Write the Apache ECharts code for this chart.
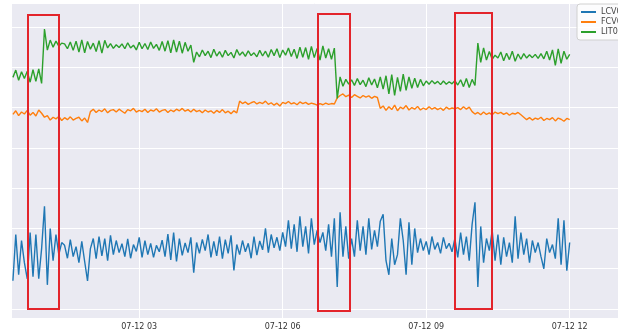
<!DOCTYPE html>
<html>
<head>
<meta charset="utf-8">
<script src="https://cdn.jsdelivr.net/npm/echarts@6/dist/echarts.min.js"></script>
<style>
  html, body { margin: 0; padding: 0; background: #fff; }
  #chart { width: 618px; height: 335px; }
</style>
</head>
<body>
<div id="chart"></div>
<script>
// 采样：从 07-12 00:21.6 开始，每 0.06 小时一个点
const START_HOUR = 0.36
const STEP_HOUR = 0.06
const SERIES_NAMES = ['LCV01', 'FCV01', 'LIT01']
const X_TICK_PREFIX = '07-12 '

// 液位调节阀 LCV01（蓝）
const lcvValues = [
  7.0, 18.5, 8.5, 17.0, 11.5, 7.5, 19.0, 8.0, 18.5, 7.5,
  15.0, 25.5, 6.0, 20.0, 12.0, 18.5, 13.5, 16.5, 15.8, 12.6,
  17.2, 13.0, 15.5, 11.5, 16.8, 11.8, 7.0, 15.0, 17.5, 12.5,
  18.0, 13.2, 17.5, 12.0, 18.3, 13.5, 17.0, 14.0, 16.2, 13.0,
  17.4, 12.6, 16.0, 14.3, 17.8, 12.8, 17.0, 13.5, 16.3, 12.8,
  15.8, 14.2, 17.1, 13.0, 18.6, 12.2, 19.0, 11.8, 17.5, 13.3,
  16.4, 14.0, 17.8, 9.0, 16.5, 13.8, 17.3, 14.5, 18.5, 12.8,
  16.8, 13.2, 18.0, 12.5, 17.2, 13.8, 18.3, 9.6, 16.0, 13.5,
  17.0, 14.2, 16.3, 12.6, 18.0, 13.4, 16.9, 14.7, 20.0, 14.0,
  18.5, 15.2, 17.8, 14.5, 19.0, 15.5, 22.0, 15.0, 21.0, 14.2,
  23.0, 15.5, 20.5, 13.8, 22.5, 16.0, 19.5, 16.5, 19.0, 14.5,
  21.0, 13.0, 22.5, 5.5, 24.0, 13.0, 20.5, 12.5, 17.5, 13.0,
  22.0, 14.5, 20.5, 13.5, 22.5, 14.8, 19.5, 15.5, 21.8, 23.5,
  12.0, 8.5, 17.5, 11.0, 13.5, 22.5, 17.0, 8.5, 21.5, 11.0,
  20.0, 14.0, 17.5, 14.5, 16.8, 13.5, 18.0, 14.8, 16.5, 13.8,
  17.8, 15.0, 16.3, 14.2, 17.5, 12.8, 19.0, 13.5, 18.0, 12.0,
  21.0, 26.5, 5.5, 20.5, 11.5, 17.5, 14.5, 19.5, 12.0, 18.5,
  11.0, 17.8, 13.0, 16.5, 11.5, 23.0, 12.5, 19.0, 13.5, 17.5,
  11.5, 17.0, 14.0, 16.5, 13.0, 10.0, 17.5, 14.0, 16.0, 12.5,
  22.5, 11.0, 22.0, 9.5, 16.5
]

// 流量调节阀 FCV01（橙）
const fcvValues = [
  48.3, 49.2, 48.0, 48.9, 48.4, 49.3, 48.1, 48.8, 47.9, 49.4,
  48.6, 47.6, 48.0, 46.9, 47.6, 47.2, 47.8, 46.8, 47.5, 47.0,
  47.7, 46.9, 47.3, 47.6, 46.7, 47.4, 46.3, 49.0, 49.6, 48.8,
  49.4, 49.0, 49.7, 48.7, 49.3, 49.5, 48.9, 49.6, 49.1, 48.6,
  49.5, 49.2, 49.8, 48.9, 49.3, 49.0, 49.6, 48.8, 49.4, 49.1,
  49.7, 48.9, 49.3, 49.5, 48.8, 49.4, 49.0, 49.6, 49.2, 49.8,
  49.1, 49.5, 48.9, 49.6, 49.0, 49.3, 48.7, 49.4, 48.9, 49.2,
  48.6, 49.3, 48.8, 49.5, 48.7, 49.1, 48.5, 49.2, 48.7, 51.6,
  51.0, 51.4, 50.8, 51.2, 51.5, 50.9, 51.3, 51.0, 51.6, 50.8,
  51.2, 50.6, 51.1, 50.4, 51.3, 51.0, 51.5, 50.9, 51.2, 50.7,
  51.4, 51.0, 51.3, 50.8, 51.1, 50.9, 50.6, 51.0, 50.7, 51.1,
  50.8, 51.0, 50.9, 52.4, 53.0, 53.4, 52.7, 53.1, 52.5, 53.2,
  52.8, 52.4, 53.0, 52.6, 52.9, 52.3, 52.8, 52.5, 49.8, 50.4,
  49.3, 50.2, 49.5, 50.6, 49.2, 50.1, 49.7, 50.5, 49.4, 50.0,
  49.6, 50.3, 49.4, 49.9, 49.5, 50.2, 49.6, 50.0, 49.5, 49.9,
  49.3, 50.1, 49.6, 49.9, 49.7, 50.0, 49.5, 50.2, 49.6, 50.1,
  49.0, 48.4, 48.8, 48.2, 48.9, 48.3, 48.7, 48.2, 48.9, 48.5,
  48.8, 48.3, 48.7, 48.1, 48.6, 48.4, 48.8, 48.2, 47.6, 47.0,
  47.5, 46.9, 47.4, 47.1, 47.6, 46.8, 47.3, 47.0, 47.5, 46.7,
  47.4, 47.1, 46.6, 47.3, 47.0
]

// 液位 LIT01（绿）
const litValues = [
  57.5, 59.3, 56.8, 58.9, 57.2, 59.0, 56.3, 59.4, 56.5, 59.6,
  56.0, 69.5, 64.25, 66.75, 65.0, 66.5, 65.25, 66.0, 65.8, 64.6,
  66.3, 64.2, 66.5, 63.8, 66.8, 63.6, 66.4, 64.5, 66.0, 63.9,
  66.6, 63.5, 66.7, 64.8, 65.9, 64.7, 65.6, 64.9, 65.8, 64.6,
  66.1, 64.8, 65.5, 64.3, 66.2, 64.6, 65.9, 64.4, 66.3, 64.7,
  65.7, 64.2, 66.4, 64.0, 66.6, 63.6, 66.8, 63.8, 66.5, 63.5,
  66.2, 64.0, 65.5, 61.25, 63.8, 62.6, 64.3, 62.9, 64.0, 62.4,
  64.5, 62.8, 63.9, 62.5, 64.2, 62.9, 63.7, 62.3, 64.4, 63.0,
  63.8, 62.7, 64.1, 62.9, 63.6, 62.6, 64.2, 62.8, 64.0, 62.5,
  64.4, 62.9, 64.6, 62.4, 64.3, 63.0, 64.8, 62.7, 64.5, 62.2,
  65.0, 62.5, 64.9, 62.0, 65.2, 62.4, 64.7, 61.8, 65.3, 62.3,
  64.6, 62.0, 64.75, 52.25, 57.6, 55.3, 57.0, 55.8, 56.9, 55.5,
  57.2, 55.7, 56.8, 55.2, 57.4, 55.6, 57.1, 54.9, 57.6, 54.6,
  57.9, 53.4, 58.2, 53.0, 57.5, 54.0, 58.3, 54.3, 57.6, 54.8,
  57.3, 55.0, 57.0, 55.4, 56.6, 55.8, 56.7, 55.9, 56.5, 55.7,
  56.6, 55.8, 56.4, 55.9, 56.7, 55.6, 56.9, 55.2, 57.2, 55.0,
  57.0, 55.5, 66.0, 61.2, 64.8, 61.8, 63.9, 62.0, 63.0, 62.3,
  63.8, 61.6, 63.5, 61.9, 64.0, 61.5, 63.3, 62.0, 63.4, 62.3,
  63.1, 62.4, 63.2, 62.2, 63.4, 62.1, 64.0, 61.8, 64.3, 60.5,
  64.6, 61.0, 64.0, 62.0, 63.2
]

const COLORS = ['#1f77b4', '#ff7f0e', '#2ca02c']

const chart = echarts.init(document.getElementById('chart'))

function toPairs(values) {
  return values.map((v, i) => [START_HOUR + i * STEP_HOUR, v])
}

// 手工标注的红框（像素坐标）
function redBox(x, y, w, h) {
  return {
    type: 'rect',
    shape: { x, y, width: w, height: h },
    style: { fill: 'none', stroke: '#e3242b', lineWidth: 2 },
    z: 100,
  }
}

chart.setOption({
  animation: false,
  backgroundColor: '#fff',
  textStyle: { fontFamily: 'DejaVu Sans' },
  grid: { left: 11, right: 0, top: 3, bottom: 17, backgroundColor: '#eaeaf2', show: true, borderWidth: 0 },
  xAxis: {
    type: 'value',
    min: 0.32,
    max: 13.01,
    splitNumber: 4,
    axisLine: { show: false },
    axisTick: { show: false },
    axisLabel: {
      fontSize: 8,
      color: '#333',
      margin: 5,
      showMinLabel: false,
      showMaxLabel: false,
      formatter: (v) => X_TICK_PREFIX + String(Math.round(v)).padStart(2, '0'),
    },
    splitLine: { show: true, lineStyle: { color: '#fff', width: 1 } },
  },
  yAxis: {
    type: 'value',
    min: -2.23,
    max: 75.96,
    splitNumber: 8,
    axisLine: { show: false },
    axisTick: { show: false },
    axisLabel: { show: false },
    splitLine: { show: true, lineStyle: { color: '#fff', width: 1 } },
  },
  legend: {
    orient: 'vertical',
    left: 577,
    top: 4,
    padding: [4, 30, 4, 4],
    itemGap: 2,
    itemWidth: 15,
    itemHeight: 2,
    icon: 'rect',
    backgroundColor: 'rgba(255,255,255,0.85)',
    borderColor: '#d0d0d0',
    borderWidth: 1,
    borderRadius: 3,
    textStyle: { fontSize: 8, color: '#444', padding: [0, 0, 0, 0] },
    data: SERIES_NAMES,
  },
  series: [lcvValues, fcvValues, litValues].map((vals, i) => ({
    name: SERIES_NAMES[i],
    type: 'line',
    data: toPairs(vals),
    showSymbol: false,
    symbol: 'none',
    lineStyle: { color: COLORS[i], width: 1.4 },
    itemStyle: { color: COLORS[i] },
    z: 2 + i,
  })),
  graphic: [
    redBox(28, 15, 31, 294),
    redBox(318, 14, 32, 297),
    redBox(455, 13, 37, 296),
  ],
})
</script>
</body>
</html>
